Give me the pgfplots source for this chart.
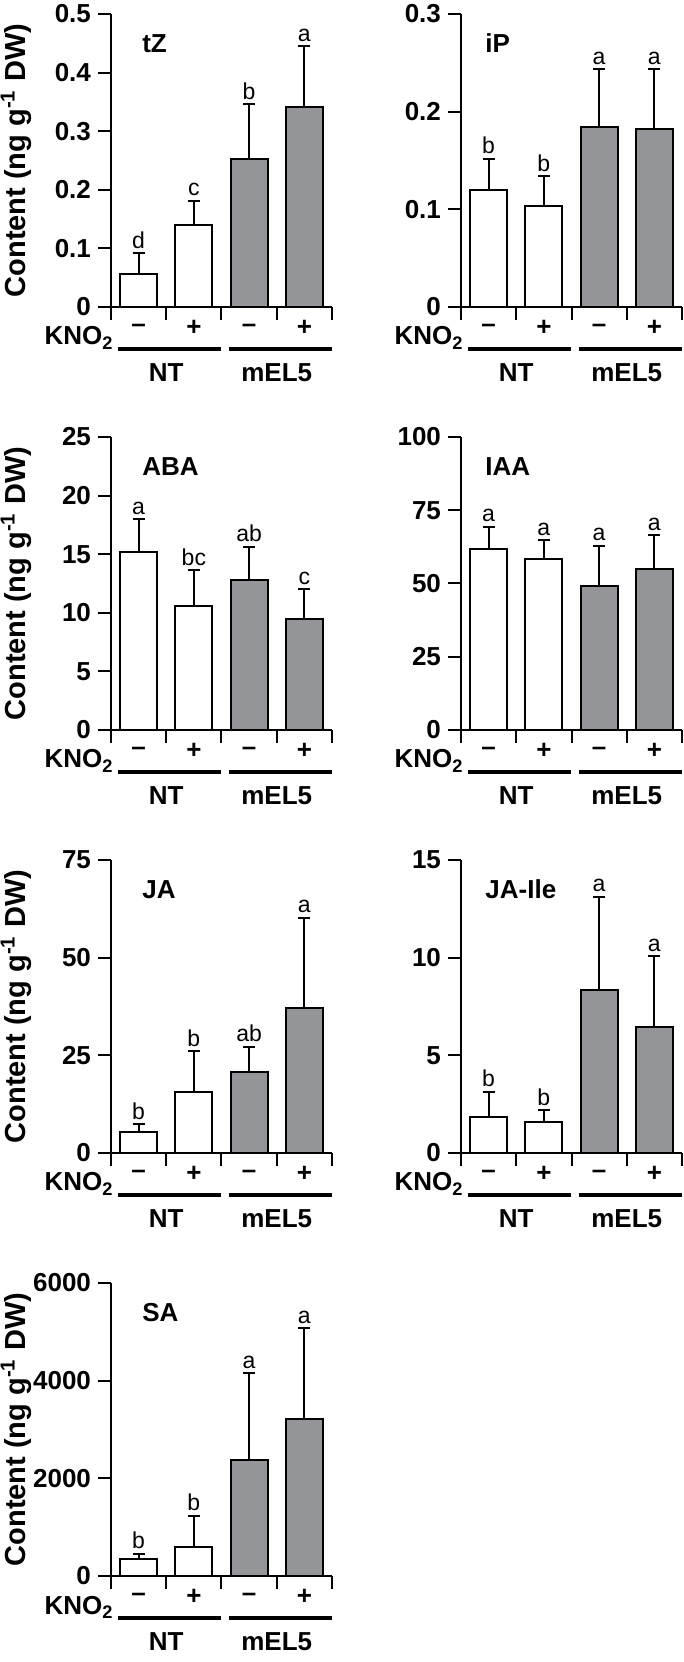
\documentclass[border=0pt]{standalone}
\usepackage{fontspec}
\setmainfont{Liberation Sans}
\usepackage{pgfplots}
\pgfplotsset{compat=1.18}
\definecolor{bargray}{RGB}{147,149,152}
\newcommand\lab{\fontsize{13}{15}\selectfont\bfseries}
\newcommand\letr{\fontsize{11.5}{13}\selectfont}
\newcommand\ylab{\fontsize{14.5}{16}\selectfont\bfseries}
\pgfplotsset{
  panel/.style={
    scale only axis, width=110.5pt, height=146.5pt,
    xmin=-0.5, xmax=3.5, ymin=0,
    axis x line*=bottom, axis y line*=left,
    xtick={-0.5,0.5,1.5,2.5,3.5}, xticklabels={},
    tick align=outside, major tick length=6.5pt,
    axis line style={line width=1pt, black},
    tick style={line width=1pt, black},
    yticklabel style={font=\lab},
    /pgf/number format/assume math mode=true,
    /pgf/number format/1000 sep={},
    scaled y ticks=false,
    clip=false,
  },
  leftpanel/.style={panel,
    ylabel={Content (ng g\textsuperscript{-1} DW)},
    ylabel style={font=\ylab, at={(axis description cs:-0.43,0.5)}, anchor=center, rotate=0},
  },
  whitebar/.style={ybar, bar width=18.5pt, bar shift=0pt, fill=white, draw=black, line width=1pt,
    error bars/.cd, y dir=plus, y explicit,
    error bar style={line width=1pt, black},
    error mark options={line width=1pt, mark size=3pt, black, rotate=90}},
  graybar/.style={ybar, bar width=18.5pt, bar shift=0pt, fill=bargray, draw=black, line width=1pt,
    error bars/.cd, y dir=plus, y explicit,
    error bar style={line width=1pt, black},
    error mark options={line width=1pt, mark size=3pt, black, rotate=90}},
  letters/.style={draw=none, nodes near coords, point meta=explicit symbolic,
    every node near coord/.append style={font=\letr, anchor=base, yshift=2.5pt, inner sep=0pt}},
}
\newcommand\decor{%
  \node[font=\lab, anchor=base east, inner sep=0pt] at ([xshift=1.5pt,yshift=-19pt]axis cs:-0.5,0) {KNO\textsubscript{2}};
  \node[font=\lab] at ([yshift=-10.5pt]axis cs:0,0) {--};
  \node[font=\lab] at ([yshift=-10.5pt]axis cs:1,0) {+};
  \node[font=\lab] at ([yshift=-10.5pt]axis cs:2,0) {--};
  \node[font=\lab] at ([yshift=-10.5pt]axis cs:3,0) {+};
  \draw[line width=2pt] ([yshift=-21pt]axis cs:-0.38,0) -- ([yshift=-21pt]axis cs:1.49,0);
  \draw[line width=2pt] ([yshift=-21pt]axis cs:1.63,0) -- ([yshift=-21pt]axis cs:3.5,0);
  \node[font=\lab] at ([yshift=-33pt]axis cs:0.5,0) {NT};
  \node[font=\lab] at ([yshift=-33pt]axis cs:2.5,0) {mEL5};
}
\begin{document}
\begin{tikzpicture}
\useasboundingbox (0,0) rectangle (342pt,831pt);

% tZ
\begin{axis}[leftpanel, at={(55.5pt,677.5pt)}, anchor=south west, ymax=0.5, ytick={0,0.1,0.2,0.3,0.4,0.5}]
\addplot[whitebar] coordinates {(0,0.0565) +- (0,0.0355) (1,0.140) +- (0,0.0415)};
\addplot[graybar] coordinates {(2,0.253) +- (0,0.093) (3,0.342) +- (0,0.103)};
\addplot[letters] coordinates {(0,0.092)[d] (1,0.1815)[c] (2,0.346)[b] (3,0.445)[a]};
\node[font=\lab, anchor=west, inner sep=0pt] at (rel axis cs:0.14,0.9) {tZ};
\decor
\end{axis}

% iP
\begin{axis}[panel, at={(230.5pt,677.5pt)}, anchor=south west, ymax=0.3, ytick={0,0.1,0.2,0.3}]
\addplot[whitebar] coordinates {(0,0.1195) +- (0,0.0325) (1,0.1038) +- (0,0.0302)};
\addplot[graybar] coordinates {(2,0.184) +- (0,0.0595) (3,0.182) +- (0,0.0615)};
\addplot[letters] coordinates {(0,0.152)[b] (1,0.134)[b] (2,0.2435)[a] (3,0.2435)[a]};
\node[font=\lab, anchor=west, inner sep=0pt] at (rel axis cs:0.109,0.9) {iP};
\decor
\end{axis}

% ABA
\begin{axis}[leftpanel, at={(55.5pt,466pt)}, anchor=south west, ymax=25, ytick={0,5,10,15,20,25}]
\addplot[whitebar] coordinates {(0,15.2) +- (0,2.78) (1,10.57) +- (0,3.07)};
\addplot[graybar] coordinates {(2,12.76) +- (0,2.87) (3,9.49) +- (0,2.5)};
\addplot[letters] coordinates {(0,17.98)[a] (1,13.64)[bc] (2,15.63)[ab] (3,11.99)[c]};
\node[font=\lab, anchor=west, inner sep=0pt] at (rel axis cs:0.14,0.9) {ABA};
\decor
\end{axis}

% IAA
\begin{axis}[panel, at={(230.5pt,466pt)}, anchor=south west, ymax=100, ytick={0,25,50,75,100}]
\addplot[whitebar] coordinates {(0,61.9) +- (0,7.4) (1,58.4) +- (0,6.4)};
\addplot[graybar] coordinates {(2,49.1) +- (0,13.7) (3,54.9) +- (0,11.5)};
\addplot[letters] coordinates {(0,69.3)[a] (1,64.8)[a] (2,62.8)[a] (3,66.4)[a]};
\node[font=\lab, anchor=west, inner sep=0pt] at (rel axis cs:0.109,0.9) {IAA};
\decor
\end{axis}

% JA
\begin{axis}[leftpanel, at={(55.5pt,254.5pt)}, anchor=south west, ymax=75, ytick={0,25,50,75}]
\addplot[whitebar] coordinates {(0,5.38) +- (0,1.97) (1,15.55) +- (0,10.5)};
\addplot[graybar] coordinates {(2,20.67) +- (0,6.49) (3,37.24) +- (0,22.96)};
\addplot[letters] coordinates {(0,7.35)[b] (1,26.05)[b] (2,27.16)[ab] (3,60.2)[a]};
\node[font=\lab, anchor=west, inner sep=0pt] at (rel axis cs:0.14,0.9) {JA};
\decor
\end{axis}

% JA-Ile
\begin{axis}[panel, at={(230.5pt,254.5pt)}, anchor=south west, ymax=15, ytick={0,5,10,15}]
\addplot[whitebar] coordinates {(0,1.845) +- (0,1.285) (1,1.59) +- (0,0.6)};
\addplot[graybar] coordinates {(2,8.34) +- (0,4.78) (3,6.46) +- (0,3.62)};
\addplot[letters] coordinates {(0,3.13)[b] (1,2.19)[b] (2,13.12)[a] (3,10.08)[a]};
\node[font=\lab, anchor=west, inner sep=0pt] at (rel axis cs:0.109,0.9) {JA-Ile};
\decor
\end{axis}

% SA
\begin{axis}[leftpanel, at={(55.5pt,43pt)}, anchor=south west, ymax=6000, ytick={0,2000,4000,6000}]
\addplot[whitebar] coordinates {(0,342) +- (0,116) (1,595) +- (0,635)};
\addplot[graybar] coordinates {(2,2371) +- (0,1784) (3,3219) +- (0,1852)};
\addplot[letters] coordinates {(0,458)[b] (1,1230)[b] (2,4155)[a] (3,5071)[a]};
\node[font=\lab, anchor=west, inner sep=0pt] at (rel axis cs:0.14,0.9) {SA};
\decor
\end{axis}
\end{tikzpicture}
\end{document}
